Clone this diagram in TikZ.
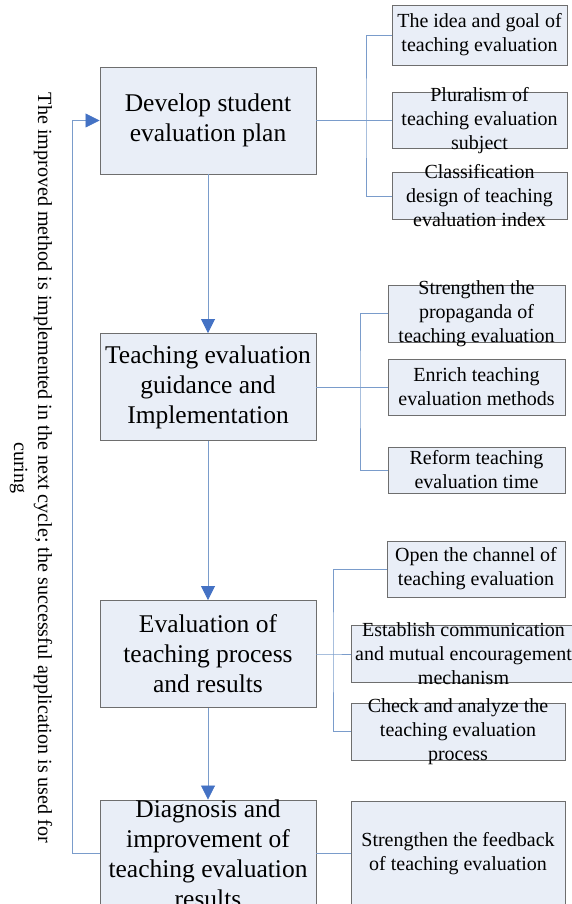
\documentclass[tikz,border=0pt]{standalone}
\usepackage{fontspec}
\setmainfont{Liberation Serif}
\usetikzlibrary{positioning,arrows.meta}
\definecolor{fondo}{HTML}{E9EEF7}
\definecolor{borde}{HTML}{6E6E6E}
\definecolor{linea}{HTML}{7A9CCB}
\definecolor{punta}{HTML}{4472C4}

\begin{document}
\begin{tikzpicture}[x=1pt, y=-1pt,
    paso/.style={draw=borde, fill=fondo, line width=0.9pt, minimum width=216pt,
                 minimum height=107pt, inner sep=0pt},
    sub/.style={draw=borde, fill=fondo, line width=0.9pt, inner sep=0pt},
    txtpaso/.style={align=center, inner sep=0pt, font=\fontsize{25.5}{30}\selectfont},
    txtsub/.style={align=center, inner sep=0pt, font=\fontsize{20}{24}\selectfont},
    rama/.style={draw=linea, line width=0.8pt},
    flecha/.style={draw=linea, line width=0.8pt,
                   -{Triangle[length=14pt, width=14pt, color=punta]}}]
    \useasboundingbox (0,0) rectangle (572,904);
    % pasos del ciclo
    \node[paso] (b1) at (208,120.5) {};
    \node[txtpaso] (b1t) at (b1) {Develop student\\evaluation plan};
    \node[paso] (b2) at (208,387) {};
    \node[txtpaso] (b2t) at (b2) {Teaching evaluation\\guidance and\\Implementation};
    \node[paso] (b3) at (208,654) {};
    \node[txtpaso] (b3t) at (b3) {Evaluation of\\teaching process\\and results};
    \node[paso] (b4) at (208,853.5) {};
    \node[txtpaso] (b4t) at (b4) {Diagnosis and\\improvement of\\teaching evaluation\\results};
    % medidas de cada paso
    \node[sub, minimum width=175pt, minimum height=60pt] (s11) at (479.5,35) {};
    \node[txtsub] (s11t) at (s11) {The idea and goal of\\teaching evaluation};
    \node[sub, minimum width=175pt, minimum height=56pt] (s12) at (479.5,120.5) {};
    \node[txtsub] (s12t) at (s12) {Pluralism of\\teaching evaluation\\subject};
    \node[sub, minimum width=175pt, minimum height=47pt] (s13) at (479.5,196) {};
    \node[txtsub] (s13t) at (s13) {Classification\\design of teaching\\evaluation index};
    \node[sub, minimum width=177pt, minimum height=57pt] (s21) at (476.5,313.5) {};
    \node[txtsub] (s21t) at (s21) {Strengthen the\\propaganda of\\teaching evaluation};
    \node[sub, minimum width=177pt, minimum height=56pt] (s22) at (476.5,387) {};
    \node[txtsub] (s22t) at (s22) {Enrich teaching\\evaluation methods};
    \node[sub, minimum width=177pt, minimum height=46pt] (s23) at (476.5,470) {};
    \node[txtsub] (s23t) at (s23) {Reform teaching\\evaluation time};
    \node[sub, minimum width=178pt, minimum height=56pt] (s31) at (476,569) {};
    \node[txtsub] (s31t) at (s31) {Open the channel of\\teaching evaluation};
    \node[sub, minimum width=225pt, minimum height=57pt] (s32) at (463.5,654) {};
    \node[txtsub] (s32t) at (s32) {Establish communication\\and mutual encouragement\\mechanism};
    \node[sub, minimum width=214pt, minimum height=57pt] (s33) at (458,731.5) {};
    \node[txtsub] (s33t) at (s33) {Check and analyze the\\teaching evaluation\\process};
    \node[sub, minimum width=214pt, minimum height=104pt] (s41) at (458,853.5) {};
    \node[txtsub] (s41t) at (s41) {Strengthen the feedback\\of teaching evaluation};
    % flechas entre pasos
    \draw[flecha] (b1) -- (b2);
    \draw[flecha] (b2) -- (b3);
    \draw[flecha] (b3) -- (b4);
    % vuelta al primer paso
    \coordinate (c1) at (72.5,853.5);
    \draw[flecha] (b4.west) -- (c1) |- (b1.west);
    \node[rotate=-90, align=center, inner sep=0pt, font=\fontsize{20.1}{24}\selectfont]
      (nota) at (31,468) {The improved method is implemented in the next cycle; the successful application is used for\\curing};
    % ramas hacia las medidas
    \coordinate (j1) at (366,120.5);
    \draw[rama] (b1.east) -- (s12.west);
    \draw[rama] (s11.west) -| (j1) |- (s13.west);
    \coordinate (j2) at (360,387);
    \draw[rama] (b2.east) -- (s22.west);
    \draw[rama] (s21.west) -| (j2) |- (s23.west);
    \coordinate (j3) at (333,654);
    \draw[rama] (b3.east) -- (j3) -- (s32.west);
    \draw[rama] (s31.west) -| (j3) |- (s33.west);
    \draw[rama] (b4.east) -- (s41.west);
  \end{tikzpicture}
\end{document}
